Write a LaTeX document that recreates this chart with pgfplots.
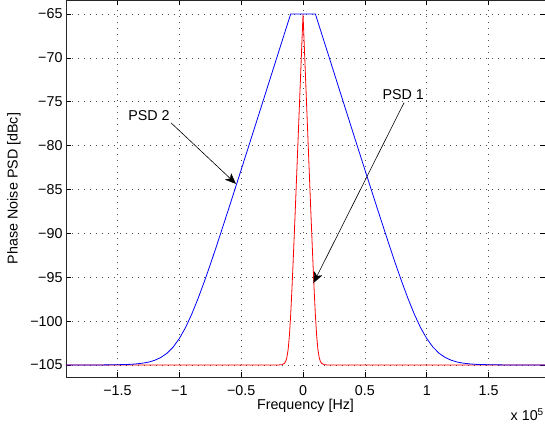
\documentclass[border=0pt]{standalone}
\usepackage{fontspec}
\setmainfont{Liberation Sans}
\usepackage{pgfplots}
\pgfplotsset{compat=1.18}
\usetikzlibrary{arrows.meta}
\begin{document}
\begin{tikzpicture}[font=\fontsize{14.3bp}{17bp}\selectfont]
\begin{axis}[
 at={(0,0)}, anchor=south west, scale only axis,
 width=479bp, height=377bp,
 xmin=-1.916, xmax=1.956, ymin=-106.37, ymax=-63.4,
 xtick={-1.5,-1,-0.5,0,0.5,1,1.5},
 xticklabels={−1.5,−1,−0.5,0,0.5,1,1.5},
 ytick={-105,-100,-95,-90,-85,-80,-75,-70,-65},
 yticklabels={−105,−100,−95,−90,−85,−80,−75,−70,−65},
 tick align=inside, major tick length=5bp,
 grid=major, grid style={black!70, line width=0.6bp, dash pattern=on 0.7bp off 5.3bp},
 axis line style={line width=0.6bp, black!85},
 tick style={line width=0.6bp, black},
 xticklabel style={yshift=-5bp},
 xlabel={Frequency [Hz]}, ylabel={Phase Noise PSD [dBc]},
 xlabel style={at={(axis description cs:0.5,0)}, anchor=center, yshift=-29bp},
 ylabel style={at={(axis description cs:0,0.5)}, anchor=center, yshift=52bp},
 every axis plot/.append style={line width=0.8bp},
 clip mode=individual,
]
\addplot[red] coordinates {
(-1.916,-105) (-0.2,-105) (-0.17,-104.96) (-0.15,-104.81) (-0.14,-104.59) (-0.13,-104.11) (-0.12,-103.19) (-0.11,-101.62) (-0.10,-99.34) (-0.09,-96.48) (-0.08,-93.27) (-0.07,-89.87) (-0.06,-86.43) (-0.04,-79.29) (-0.02,-72.14) (0,-65)
(0.02,-72.14) (0.04,-79.29) (0.06,-86.43) (0.07,-89.87) (0.08,-93.27) (0.09,-96.48) (0.10,-99.34) (0.11,-101.62) (0.12,-103.19) (0.13,-104.11) (0.14,-104.59) (0.15,-104.81) (0.17,-104.96) (0.2,-105) (1.956,-105)
};
\addplot[blue] coordinates {
(-1.916,-105) (-1.7,-105.00) (-1.6,-104.99) (-1.5,-104.97) (-1.4,-104.93) (-1.35,-104.88) (-1.3,-104.80) (-1.25,-104.68) (-1.2,-104.47) (-1.15,-104.15) (-1.1,-103.67) (-1.05,-102.96) (-1.0,-101.99) (-0.95,-100.74) (-0.9,-99.22) (-0.85,-97.48) (-0.8,-95.58) (-0.75,-93.57) (-0.7,-91.47) (-0.6,-87.15) (-0.5,-82.75) (-0.4,-78.33) (-0.3,-73.89) (-0.2,-69.44) (-0.1,-65)
(0.1,-65) (0.2,-69.44) (0.3,-73.89) (0.4,-78.33) (0.5,-82.75) (0.6,-87.15) (0.7,-91.47) (0.75,-93.57) (0.8,-95.58) (0.85,-97.48) (0.9,-99.22) (0.95,-100.74) (1.0,-101.99) (1.05,-102.96) (1.1,-103.67) (1.15,-104.15) (1.2,-104.47) (1.25,-104.68) (1.3,-104.80) (1.35,-104.88) (1.4,-104.93) (1.5,-104.97) (1.6,-104.99) (1.7,-105.00) (1.956,-105)
};
\node at (axis cs:-1.245,-76.6) {PSD 2};
\draw[line width=0.6bp, -{Stealth[length=11bp, width=9bp, inset=3bp]}] (axis cs:-1.067,-77.4) -- (axis cs:-0.542,-84.36);
\node at (axis cs:0.81,-74.2) {PSD 1};
\draw[line width=0.6bp, -{Stealth[length=11bp, width=9bp, inset=3bp]}] (axis cs:0.817,-75.1) -- (axis cs:0.084,-95.67);
\end{axis}
\node[anchor=east, inner sep=0pt] at (478bp,-38bp) {x 10\textsuperscript{5}};
\pgfresetboundingbox
\path (-66bp,-50bp) rectangle (479bp,377bp);
\end{tikzpicture}
\end{document}
